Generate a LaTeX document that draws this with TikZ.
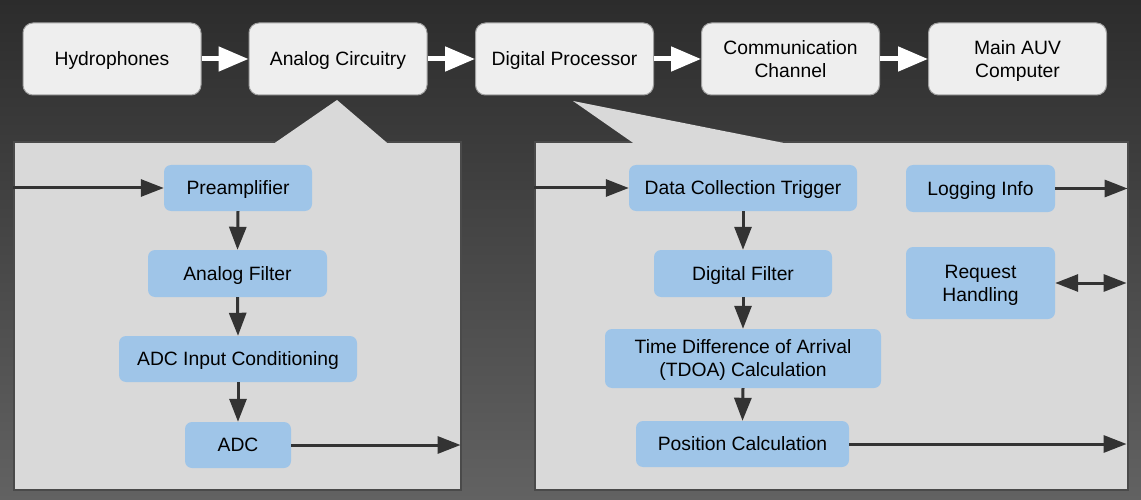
\documentclass[tikz,border=0pt]{standalone}
\usepackage{fontspec}
\setmainfont{Liberation Sans}
\usetikzlibrary{arrows.meta}
\definecolor{bgtop}{HTML}{2C2C2C}
\definecolor{bgbot}{HTML}{626262}
\definecolor{topfill}{HTML}{EEEEEE}
\definecolor{topborder}{HTML}{A0A0A0}
\definecolor{panelfill}{HTML}{D9D9D9}
\definecolor{panelborder}{HTML}{4A4A4A}
\definecolor{bluefill}{HTML}{9FC5E8}
\definecolor{arrowc}{HTML}{333333}
\begin{document}
\begin{tikzpicture}[x=1pt,y=-1pt,
  txt/.style={font=\fontsize{19.3}{23}\selectfont, align=center, text=black, text height=13.8pt, text depth=0pt},
  twoline/.style={text height=36.8pt, text depth=0pt},
  topbox/.style={txt, draw=topborder, line width=1pt, fill=topfill, rounded corners=10pt,
    minimum width=178pt, minimum height=72pt, inner sep=0pt},
  panel/.style={draw=panelborder, line width=1.2pt, fill=panelfill, inner sep=0pt},
  bluebox/.style={txt, fill=bluefill, rounded corners=7pt, inner sep=0pt},
  whitearrow/.style={draw=white, line width=5pt, -{Triangle[length=30pt,width=24pt]}},
  darkarrow/.style={draw=arrowc, line width=3pt, -{Triangle[length=23pt,width=17pt]}},
  dbarrow/.style={draw=arrowc, line width=3pt, {Triangle[length=23pt,width=17pt]}-{Triangle[length=23pt,width=17pt]}}
]
\useasboundingbox (0,0) rectangle (1141,500);
\shade[top color=bgtop, bottom color=bgbot] (0,0) rectangle (1141,500);

% top row
\node[topbox] (hyd) at (112,59) {Hydrophones};
\node[topbox] (ana) at (338,59) {Analog Circuitry};
\node[topbox] (dig) at (564.5,59) {Digital Processor};
\node[topbox, twoline] (com) at (790.5,59) {Communication\\Channel};
\node[topbox, twoline] (auv) at (1017.5,59) {Main AUV\\Computer};

\draw[whitearrow] (hyd.east) -- (ana.west);
\draw[whitearrow] (ana.east) -- (dig.west);
\draw[whitearrow] (dig.east) -- (com.west);
\draw[whitearrow] (com.east) -- (auv.west);

% panels
\node[panel, minimum width=447pt, minimum height=348pt] (lp) at (237.5,316) {};
\node[panel, minimum width=593pt, minimum height=348pt] (rp) at (831.5,316) {};
\fill[panelfill] (337,100) -- (387,142.8) -- (275,142.8) -- cycle;
\fill[panelfill] (573,101) -- (783,142.8) -- (633,142.8) -- cycle;

% left column
\node[bluebox, minimum width=148pt, minimum height=46pt] (pre) at (238,188) {Preamplifier};
\node[bluebox, minimum width=179pt, minimum height=47pt] (af) at (237.5,273.5) {Analog Filter};
\node[bluebox, minimum width=238pt, minimum height=46pt] (adcic) at (238,359) {ADC Input Conditioning};
\node[bluebox, minimum width=106pt, minimum height=46pt] (adc) at (238,445) {ADC};

\coordinate (lin) at (lp.west |- pre.west);
\coordinate (lout) at ([xshift=-1pt]lp.east |- adc.east);
\draw[darkarrow] (lin) -- (pre.west);
\draw[darkarrow] (pre.south) -- (af.north);
\draw[darkarrow] (af.south) -- (adcic.north);
\draw[darkarrow] (adcic.south) -- (adc.north);
\draw[darkarrow] (adc.east) -- (lout);

% right column
\node[bluebox, minimum width=228pt, minimum height=46pt] (dct) at (743,188) {Data Collection Trigger};
\node[bluebox, minimum width=178pt, minimum height=47pt] (df) at (743,273.5) {Digital Filter};
\node[bluebox, twoline, minimum width=276pt, minimum height=59pt] (tdoa) at (743,358.5) {Time Difference of Arrival\\(TDOA) Calculation};
\node[bluebox, minimum width=213pt, minimum height=46pt] (pos) at (742.5,444) {Position Calculation};
\node[bluebox, minimum width=149pt, minimum height=47pt] (log) at (980.5,188.5) {Logging Info};
\node[bluebox, twoline, minimum width=149pt, minimum height=72pt] (req) at (980.5,283) {Request\\Handling};

\coordinate (rin) at (rp.west |- dct.west);
\coordinate (pout) at ([xshift=-2pt]rp.east |- pos.east);
\coordinate (logout) at ([xshift=-1pt]rp.east |- log.east);
\coordinate (reqout) at ([xshift=-2pt]rp.east |- req.east);
\draw[darkarrow] (rin) -- (dct.west);
\draw[darkarrow] (dct.south) -- (df.north);
\draw[darkarrow] (df.south) -- (tdoa.north);
\draw[darkarrow] (tdoa.south) -- (pos.north);
\draw[darkarrow] (pos.east) -- (pout);
\draw[darkarrow] (log.east) -- (logout);
\draw[dbarrow] (req.east) -- (reqout);
\end{tikzpicture}
\end{document}
